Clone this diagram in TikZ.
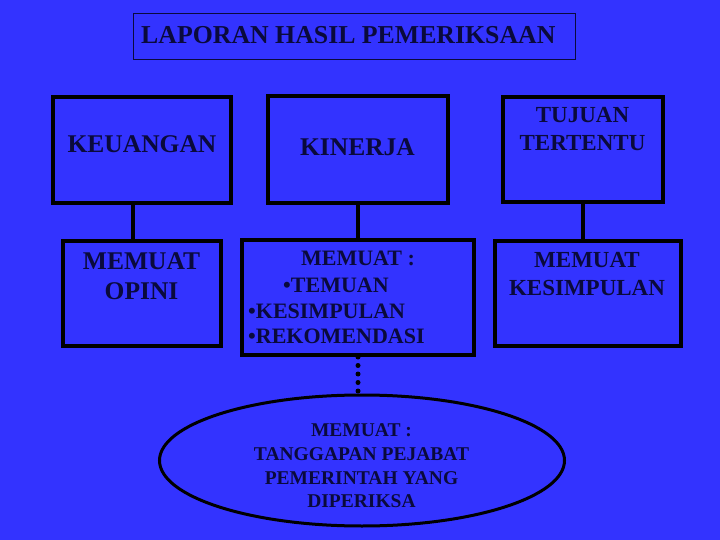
\documentclass[tikz,border=0pt]{standalone}
\usepackage{fontspec}
\setmainfont{Liberation Serif}
\usetikzlibrary{shapes.geometric}
\definecolor{bgblue}{RGB}{51,51,255}
\definecolor{ink}{RGB}{10,10,60}
\tikzset{
  boxnode/.style={draw=black, line width=4pt, rectangle, inner sep=0pt},
  conn/.style={draw=black, line width=4pt},
  dotconn/.style={draw=black, line width=5pt, line cap=round, dash pattern=on 0pt off 8.5pt},
  bigtxt/.style={text=ink, font=\bfseries\fontsize{25.5}{30}\selectfont, anchor=base, inner sep=0pt},
  midtxt/.style={text=ink, font=\bfseries\fontsize{22}{26}\selectfont, anchor=base west, inner sep=0pt},
  righttxt/.style={text=ink, font=\bfseries\fontsize{23}{28}\selectfont, anchor=base, inner sep=0pt},
  elltxt/.style={text=ink, font=\bfseries\fontsize{19.5}{24}\selectfont, anchor=base, inner sep=0pt},
}
\begin{document}
\begin{tikzpicture}[x=1pt,y=-1pt]
\fill[bgblue] (0,0) rectangle (720,540);
\useasboundingbox (0,0) rectangle (720,540);

% title
\node[draw=ink, line width=1pt, rectangle, minimum width=442pt, minimum height=46pt, inner sep=0pt] (title) at (354,37) {};
\node[text=ink, font=\bfseries\fontsize{25.8}{30}\selectfont, anchor=base west, inner sep=0pt] (titletxt) at (141,44) {LAPORAN HASIL PEMERIKSAAN};

% top boxes
\node[boxnode, minimum width=178pt, minimum height=106pt] (keu) at (142,150) {};
\node[boxnode, minimum width=180pt, minimum height=107pt] (kin) at (358,149.5) {};
\node[boxnode, minimum width=160pt, minimum height=105pt] (tuj) at (583,149.5) {};

% bottom boxes
\node[boxnode, minimum width=158pt, minimum height=105pt] (opini) at (142,293.5) {};
\node[boxnode, minimum width=232pt, minimum height=115pt] (mid) at (358,297.5) {};
\node[boxnode, minimum width=186pt, minimum height=105pt] (kes) at (588,293.5) {};

% ellipse
\node[draw=black, line width=3pt, ellipse, minimum width=405pt, minimum height=131pt, inner sep=0pt] (ell) at (362,460.5) {};

% connectors
\draw[conn] ([xshift=-9pt]keu.south) -- ([xshift=-9pt]keu.south |- opini.north);
\draw[conn] (kin.south) -- (kin.south |- mid.north);
\draw[conn] (tuj.south) -- (tuj.south |- kes.north);
\draw[dotconn] (mid.south) -- (mid.south |- ell.north);

% texts
\node[bigtxt] (t1) at (142,153) {KEUANGAN};
\node[bigtxt] (t2) at (357.5,156) {KINERJA};
\node[righttxt] (t3a) at (582.5,123) {TUJUAN};
\node[righttxt] (t3b) at (582.5,151) {TERTENTU};

\node[bigtxt] (t4a) at (141.5,269) {MEMUAT};
\node[bigtxt] (t4b) at (141.5,299) {OPINI};

\node[text=ink, font=\bfseries\fontsize{22}{26}\selectfont, anchor=base, inner sep=0pt] (t5a) at (358,265) {MEMUAT :};
\node[midtxt] (t5b) at (283,292) {\textbullet TEMUAN};
\node[midtxt] (t5c) at (248,318) {\textbullet KESIMPULAN};
\node[midtxt] (t5d) at (248,343) {\textbullet REKOMENDASI};

\node[righttxt] (t6a) at (587,267) {MEMUAT};
\node[righttxt] (t6b) at (587,295) {KESIMPULAN};

\node[elltxt] (t7a) at (361.5,436) {MEMUAT :};
\node[elltxt] (t7b) at (361.5,460) {TANGGAPAN PEJABAT};
\node[elltxt] (t7c) at (361.5,484) {PEMERINTAH YANG};
\node[elltxt] (t7d) at (361.5,507) {DIPERIKSA};
\end{tikzpicture}
\end{document}
